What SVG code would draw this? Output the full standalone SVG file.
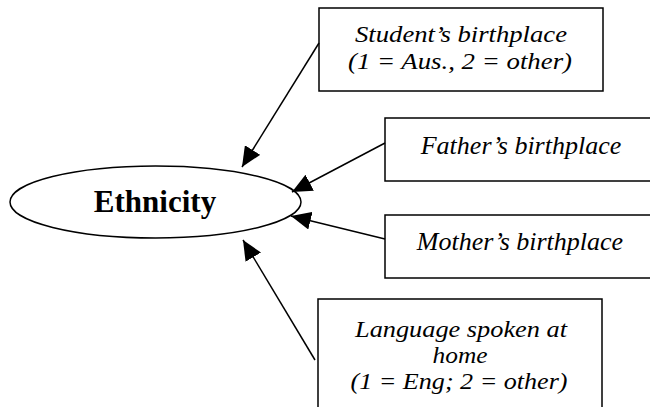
<svg xmlns="http://www.w3.org/2000/svg" width="650" height="407" viewBox="0 0 650 407">
  <style>
    .box { fill: #fff; stroke: #000; stroke-width: 1.5; }
    .lbl { font-family: "Liberation Serif", "Times New Roman", serif; font-style: italic; font-size: 26px; fill: #000; text-anchor: middle; }
    .lbl.sm { font-size: 24px; }
    .main { font-family: "Liberation Serif", "Times New Roman", serif; font-weight: bold; font-size: 31px; fill: #000; text-anchor: middle; }
    .edge { stroke: #000; stroke-width: 1.5; fill: none; marker-end: url(#arrow); }
  </style>
  <defs>
    <marker id="arrow" viewBox="0 0 20 18" refX="20" refY="9" markerWidth="20" markerHeight="18" markerUnits="userSpaceOnUse" orient="auto">
      <path d="M0,0 L20,9 L0,18 z" fill="#000"/>
    </marker>
  </defs>

  <g id="ethnicity">
    <ellipse cx="155.5" cy="202" rx="145.5" ry="36" fill="#fff" stroke="#000" stroke-width="1.5"/>
    <text class="main" x="155" y="212">Ethnicity</text>
  </g>

  <g id="student-birthplace">
    <rect class="box" x="319" y="8" width="284" height="83"/>
    <text class="lbl sm" x="461" y="42" textLength="212" lengthAdjust="spacingAndGlyphs">Student’s birthplace</text>
    <text class="lbl sm" x="460" y="69" textLength="224" lengthAdjust="spacingAndGlyphs">(1 = Aus., 2 = other)</text>
  </g>

  <g id="father-birthplace">
    <rect class="box" x="385" y="118" width="280" height="63"/>
    <text class="lbl" x="521" y="154">Father’s birthplace</text>
  </g>

  <g id="mother-birthplace">
    <rect class="box" x="385" y="215" width="280" height="63"/>
    <text class="lbl" x="520" y="250">Mother’s birthplace</text>
  </g>

  <g id="home-language">
    <rect class="box" x="318" y="299" width="284" height="120"/>
    <text class="lbl sm" x="461" y="337" textLength="212" lengthAdjust="spacingAndGlyphs">Language spoken at</text>
    <text class="lbl sm" x="460" y="363" textLength="55" lengthAdjust="spacingAndGlyphs">home</text>
    <text class="lbl sm" x="459" y="389" textLength="217" lengthAdjust="spacingAndGlyphs">(1 = Eng; 2 = other)</text>
  </g>

  <g id="connectors">
    <line class="edge" x1="319" y1="43" x2="242" y2="167"/>
    <line class="edge" x1="385" y1="143" x2="292" y2="192"/>
    <line class="edge" x1="385" y1="239" x2="291" y2="216"/>
    <line class="edge" x1="315" y1="360" x2="243" y2="240"/>
  </g>
</svg>
